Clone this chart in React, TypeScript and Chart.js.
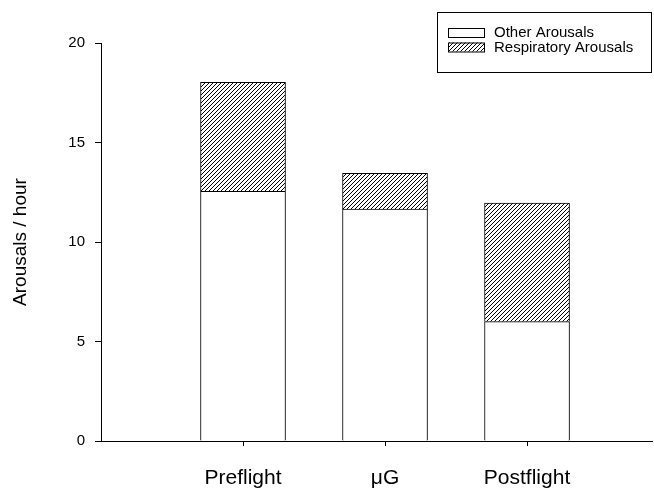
import React, { useEffect, useRef } from 'react';
import { Chart, registerables } from 'chart.js';

Chart.register(...registerables);

const categories = ['Preflight', 'μG', 'Postflight'];
const categoryPositions = [1, 2, 3];
const otherArousals = [12.55, 11.65, 6.0];
const respiratoryArousals = [5.47, 1.8, 5.95];
const yTicks = [0, 5, 10, 15, 20];
const seriesLabels = ['Other Arousals', 'Respiratory Arousals'];
const yTitle = 'Arousals / hour';

const FONT = "'Liberation Sans', Arial, Helvetica, sans-serif";

function makeHatch(): CanvasPattern | string {
  const c = document.createElement('canvas');
  const s = 4;
  c.width = s;
  c.height = s;
  const g = c.getContext('2d');
  if (!g) return '#888';
  g.fillStyle = '#fff';
  g.fillRect(0, 0, s, s);
  g.strokeStyle = '#000';
  g.lineWidth = 1;
  g.beginPath();
  g.moveTo(0, s);
  g.lineTo(s, 0);
  g.moveTo(-1, 1);
  g.lineTo(1, -1);
  g.moveTo(s - 1, s + 1);
  g.lineTo(s + 1, s - 1);
  g.stroke();
  return g.createPattern(c, 'repeat') || '#888';
}

const legendBoxPlugin = {
  id: 'legendBox',
  afterDraw(chart: any) {
    const ctx = chart.ctx as CanvasRenderingContext2D;
    ctx.save();
    ctx.strokeStyle = '#000';
    ctx.lineWidth = 1;
    ctx.strokeRect(437.5, 12.5, 214, 60);
    chart.data.datasets.forEach((d: any, i: number) => {
      const y = 28 + i * 14.5;
      ctx.fillStyle = d.backgroundColor;
      ctx.fillRect(448, y, 37, 9);
      ctx.strokeStyle = '#000';
      ctx.strokeRect(448.5, y + 0.5, 36, 9);
      ctx.fillStyle = '#000';
      ctx.font = `15px ${FONT}`;
      ctx.textBaseline = 'middle';
      ctx.textAlign = 'left';
      ctx.fillText(d.label, 494, y + 5);
    });
    ctx.restore();
  },
};

export default function App() {
  const ref = useRef<HTMLCanvasElement | null>(null);

  useEffect(() => {
    if (!ref.current) return;
    const hatch = makeHatch();
    const chart = new Chart(ref.current, {
      type: 'bar',
      data: {
        datasets: [
          {
            label: seriesLabels[0],
            data: otherArousals.map((v, i) => ({ x: categoryPositions[i], y: v })),
            backgroundColor: '#ffffff',
            borderColor: '#000000',
            borderWidth: 1,
            barThickness: 85,
          },
          {
            label: seriesLabels[1],
            data: respiratoryArousals.map((v, i) => ({ x: categoryPositions[i], y: v })),
            backgroundColor: hatch as any,
            borderColor: '#000000',
            borderWidth: 1,
            barThickness: 85,
          },
        ],
      },
      options: {
        responsive: false,
        animation: false,
        layout: { padding: { top: 43, right: 2, left: 0, bottom: 0 } },
        plugins: {
          legend: { display: false },
          tooltip: { enabled: false },
        },
        scales: {
          x: {
            type: 'linear',
            stacked: true,
            offset: false,
            min: 0,
            max: 3.88,
            afterBuildTicks: (scale: any) => {
              scale.ticks = categoryPositions.map((v) => ({ value: v }));
            },
            afterFit: (scale: any) => {
              scale.height = 52;
            },
            ticks: {
              autoSkip: false,
              maxRotation: 0,
              padding: 20,
              color: '#000',
              font: { family: FONT, size: 21 },
              callback: (value: any) => {
                const idx = categoryPositions.indexOf(Number(value));
                return idx >= 0 ? categories[idx] : '';
              },
            },
            grid: {
              display: true,
              offset: false,
              drawOnChartArea: false,
              drawTicks: true,
              tickLength: 5,
              color: '#000',
            },
            border: { display: true, color: '#000', width: 1 },
          },
          y: {
            type: 'linear',
            stacked: true,
            min: 0,
            max: 20,
            afterBuildTicks: (scale: any) => {
              scale.ticks = yTicks.map((v) => ({ value: v }));
            },
            afterFit: (scale: any) => {
              scale.width = 101;
            },
            ticks: {
              padding: 10,
              color: '#000',
              font: { family: FONT, size: 15 },
            },
            grid: {
              display: true,
              drawOnChartArea: false,
              drawTicks: true,
              tickLength: 6,
              color: '#000',
            },
            border: { display: true, color: '#000', width: 1 },
            title: {
              display: true,
              text: yTitle,
              color: '#000',
              font: { family: FONT, size: 19 },
              padding: { top: 9, bottom: 0 },
            },
          },
        },
      },
      plugins: [legendBoxPlugin],
    } as any);
    return () => chart.destroy();
  }, []);

  return (
    <div style={{ position: 'absolute', left: 0, top: 0, width: 654, height: 493, background: '#fff' }}>
      <canvas ref={ref} width={654} height={493} style={{ display: 'block', width: 654, height: 493 }} />
    </div>
  );
}
